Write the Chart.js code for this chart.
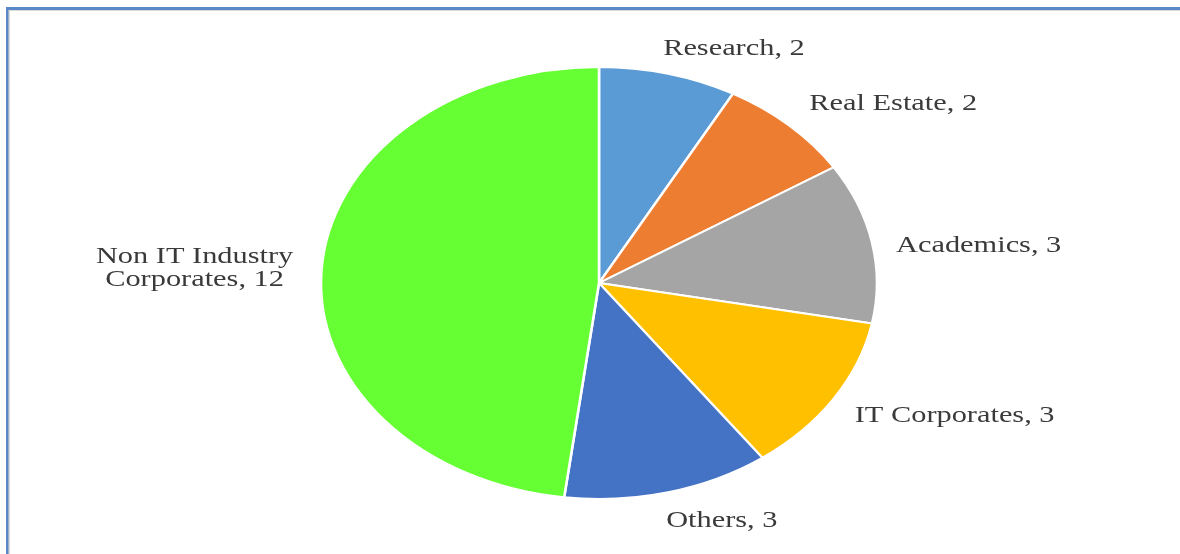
<!DOCTYPE html>
<html>
<head>
<meta charset="utf-8">
<script src="https://cdn.jsdelivr.net/npm/chart.js@4/dist/chart.umd.min.js"></script>
<style>
html,body{margin:0;padding:0;background:#fff;}
#wrap{width:1180px;height:554px;position:relative;}
canvas{display:block;}
</style>
</head>
<body>
<div id="wrap"><canvas id="c" width="1180" height="554"></canvas></div>
<script>
// ---- data ----
const categories = ['Research', 'Real Estate', 'Academics', 'IT Corporates', 'Others', ['Non IT Industry', 'Corporates']];
const values = [2, 2, 3, 3, 3, 12];
const sliceColors = ['#5B9BD5', '#ED7D31', '#A5A5A5', '#FFC000', '#4472C4', '#66FF33'];

function labelLines(i) {
  const c = categories[i];
  const lines = Array.isArray(c) ? c.slice() : [c];
  lines[lines.length - 1] = lines[lines.length - 1] + ', ' + values[i];
  return lines;
}

const framePlugin = {
  id: 'frame',
  beforeDraw(chart) {
    const ctx = chart.ctx;
    ctx.save();
    ctx.fillStyle = '#fff';
    ctx.fillRect(0, 0, chart.width, chart.height);
    ctx.fillStyle = '#DADADA';
    ctx.fillRect(8, 10, 2, chart.height - 10);
    ctx.fillRect(8, 10, chart.width - 8, 1);
    ctx.fillStyle = '#5A88C6';
    ctx.fillRect(6, 7, chart.width - 6, 3);
    ctx.fillRect(6, 7, 2.5, chart.height - 7);
    ctx.restore();
  }
};

const ellipsePlugin = {
  id: 'ellipse',
  beforeDatasetsDraw(chart, args, opts) {
    const arc = chart.getDatasetMeta(0).data[0];
    const ctx = chart.ctx;
    ctx.save();
    ctx.translate(arc.x, arc.y);
    ctx.scale(opts.sx, opts.sy);
    ctx.translate(-arc.x, -arc.y);
  },
  afterDatasetsDraw(chart) {
    chart.ctx.restore();
  }
};

const sliceLabelPlugin = {
  id: 'sliceLabels',
  afterDraw(chart, args, opts) {
    const meta = chart.getDatasetMeta(0);
    const ctx = chart.ctx;
    const ell = chart.options.plugins.ellipse;
    meta.data.forEach((arc, i) => {
      const mid = (arc.startAngle + arc.endAngle) / 2;
      const ax = arc.x + arc.outerRadius * ell.sx * Math.cos(mid);
      const ay = arc.y + arc.outerRadius * ell.sy * Math.sin(mid);
      const o = opts.offsets[i];
      const lines = labelLines(i);
      ctx.save();
      ctx.font = opts.font;
      ctx.fillStyle = opts.color;
      ctx.textAlign = o.align;
      ctx.textBaseline = 'alphabetic';
      lines.forEach((ln, j) => {
        ctx.save();
        ctx.translate(ax + o.dx, ay + o.dy + j * opts.lineHeight);
        ctx.scale(opts.textSx, 1);
        ctx.fillText(ln, 0, 0);
        ctx.restore();
      });
      ctx.restore();
    });
  }
};

new Chart(document.getElementById('c'), {
  type: 'pie',
  data: {
    labels: categories,
    datasets: [{
      data: values,
      backgroundColor: sliceColors,
      borderColor: '#FFFFFF',
      borderWidth: 2,
      radius: 216
    }]
  },
  options: {
    responsive: false,
    animation: false,
    layout: { padding: { left: 18, top: 12, right: 0, bottom: 0 } },
    plugins: {
      legend: { display: false },
      tooltip: { enabled: false },
      ellipse: { sx: 1.287, sy: 1 },
      sliceLabels: {
        font: '23px "Liberation Serif", "Times New Roman", serif',
        color: '#3A3A3A',
        textSx: 1.32,
        lineHeight: 22.5,
        offsets: [
          { align: 'left', dx: -5, dy: -19 },
          { align: 'left', dx: 20, dy: -16 },
          { align: 'left', dx: 24, dy: 9 },
          { align: 'left', dx: 21, dy: 23 },
          { align: 'left', dx: -2, dy: 35 },
          { align: 'center', dx: -127, dy: -6 }
        ]
      }
    }
  },
  plugins: [framePlugin, ellipsePlugin, sliceLabelPlugin]
});
</script>
</body>
</html>
